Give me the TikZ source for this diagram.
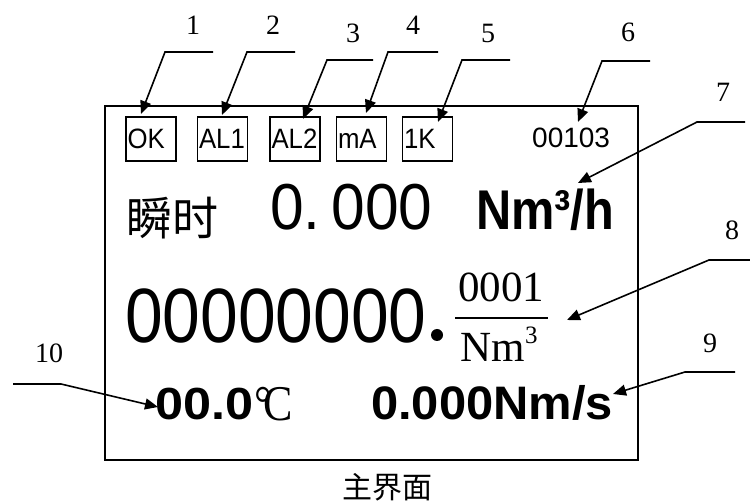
\documentclass[tikz,border=0pt]{standalone}
\usepackage{fontspec}
\setmainfont{Liberation Serif}
\newfontfamily\lsans{Liberation Sans}
\newfontfamily\lserif{Liberation Serif}
\newfontfamily\cjk{Noto Sans CJK SC}
\usetikzlibrary{arrows.meta}
\newcommand{\fs}[1]{\fontsize{#1}{#1}\selectfont}
\tikzset{
  lbl/.style={inner sep=0pt, font=\lserif\fs{28}},
  leader/.style={line width=1.6pt, -{Triangle[length=13pt,width=11pt]}},
  statbox/.style={draw, line width=1.6pt, minimum height=44pt, text width=47pt, inner xsep=1.5pt, inner ysep=0pt, align=left, font=\lsans\fs{28}},
  txt/.style={inner sep=0pt, anchor=base west},
}
\begin{document}
\begin{tikzpicture}[x=1pt,y=-1pt]
\useasboundingbox (0,0) rectangle (750,502);
% screen
\node[draw, line width=1.6pt, minimum width=533pt, minimum height=354pt, inner sep=0pt] (screen) at (371.5,283) {};
% status boxes
\node[statbox] (ok) at (151,139) {\scalebox{0.92}[1]{OK}};
\node[statbox] (al1) at (222.5,139) {\scalebox{0.92}[1]{AL1}};
\node[statbox] (al2) at (295,139) {\scalebox{0.92}[1]{AL2}};
\node[statbox] (ma) at (361.5,139) {\scalebox{0.92}[1]{mA}};
\node[statbox] (onek) at (427.5,139) {\scalebox{0.92}[1]{1K}};
\node[txt, font=\lsans\fs{28}] (cnt) at (532,148) {00103};
% instantaneous line
\node[inner sep=0pt, font=\cjk\fs{46}] (shunshi) at (172,218) {瞬时};
\node[txt, font=\lsans\fs{65}] (flow) at (270,230) {\scalebox{0.93}[1]{0.\kern12pt 000}};
\node[txt, font=\lsans\bfseries\fs{56}] (unit) at (476,230) {\scalebox{0.87}[1]{Nm³/h}};
% total
\node[txt, font=\lsans\fs{77}] (total) at (125,343) {\scalebox{0.88}[1]{00000000}};
\fill (437,335) circle (6);
\node[inner sep=0pt, font=\lserif\fs{43}, anchor=base] (num) at (501,302) {0001};
\draw[line width=2.5pt] (455,318) -- (548,318);
\node[inner sep=0pt, font=\lserif\fs{43}, anchor=base] (den) at (499,362) {Nm\raisebox{0.42em}{\fs{25}3}};
% bottom line
\node[txt, font=\lsans\bfseries\fs{45}] (temp) at (155,420) {\scalebox{1.12}[1]{00.0}};
\node[txt, font=\lserif\fs{50}] (degc) at (254,421) {\scalebox{0.88}[1]{°\kern-0.2em C}};
\node[txt, font=\lsans\bfseries\fs{47}] (mass) at (371,420) {\scalebox{1.04}[1]{0.000Nm/s}};
% caption
\node[inner sep=0pt, font=\cjk\fs{30}] (cap) at (387,487) {主界面};
% labels
\node[lbl] (n1) at (193,25) {1};
\node[lbl] (n2) at (273,25) {2};
\node[lbl] (n3) at (353,33) {3};
\node[lbl] (n4) at (413,25) {4};
\node[lbl] (n5) at (488,33) {5};
\node[lbl] (n6) at (628,32) {6};
\node[lbl] (n7) at (723,92) {7};
\node[lbl] (n8) at (732,230) {8};
\node[lbl] (n9) at (710,343) {9};
\node[lbl] (n10) at (49,353) {10};
% leader coordinates
\coordinate (a1) at (213,52); \coordinate (b1) at (165,52); \coordinate (t1) at (141,114);
\coordinate (a2) at (295,52); \coordinate (b2) at (247,52); \coordinate (t2) at (222,115);
\coordinate (a3) at (373,60); \coordinate (b3) at (327,60); \coordinate (t3) at (303,119);
\coordinate (a4) at (438,52); \coordinate (b4) at (388,52); \coordinate (t4) at (366,113);
\coordinate (a5) at (510,60); \coordinate (b5) at (462,60); \coordinate (t5) at (438,122);
\coordinate (a6) at (650,61); \coordinate (b6) at (602,61); \coordinate (t6) at (578,122);
\coordinate (a7) at (745,122); \coordinate (b7) at (697,122); \coordinate (t7) at (578,183);
\coordinate (a8) at (750,260); \coordinate (b8) at (709,260); \coordinate (t8) at (567,320);
\coordinate (a9) at (735,372); \coordinate (b9) at (685,372); \coordinate (t9) at (613,394);
\coordinate (a10) at (13,384); \coordinate (b10) at (61,384); \coordinate (t10) at (158,407);
\foreach \i in {1,...,10} { \draw[leader] (a\i) -- (b\i) -- (t\i); }
\end{tikzpicture}
\end{document}
